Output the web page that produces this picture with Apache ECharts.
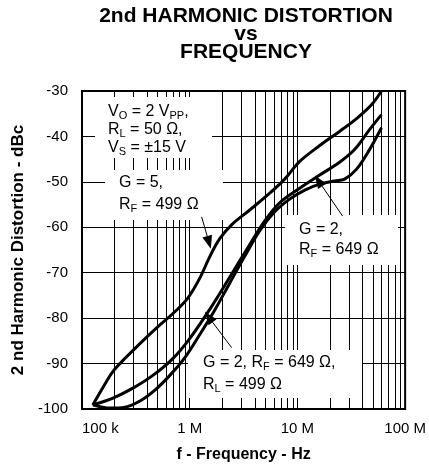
<!DOCTYPE html>
<html><head><meta charset="utf-8">
<script src="https://cdn.jsdelivr.net/npm/echarts@6/dist/echarts.min.js"></script>
<style>html,body{margin:0;padding:0;background:#fff}#c{width:429px;height:468px}</style>
</head><body><div id="c"></div>
<script>
// ---- data ----
const freqTicks = [1e5, 1e6, 1e7, 1e8];
const freqLabels = ['100 k', '1 M', '10 M', '100 M'];
const yMin = -100, yMax = -30, yStep = 10;
const minorFreqs = [2e5,3e5,4e5,5e5,6e5,7e5,8e5,9e5, 2e6,3e6,4e6,5e6,6e6,7e6,8e6,9e6, 2e7,3e7,4e7,5e7,6e7,7e7,8e7,9e7];
const g5 = [[1.26e5,-99.1],[1.57e5,-95.2],[1.94e5,-91.7],[2.5e5,-88.9],[3.45e5,-85.6],[4.96e5,-82.1],[7.28e5,-78.6],[9.6e5,-75.6],[1.24e6,-71.2],[1.54e6,-66.4],[1.9e6,-62.5],[2.46e6,-59.4],[3.61e6,-56.2],[5.53e6,-52.5],[7.61e6,-49.4],[1.05e7,-45.5],[1.61e7,-42.0],[2.46e7,-38.9],[3.61e7,-35.9],[4.87e7,-33.05],[6.03e7,-30.0]];
const g2rl50 = [[1.26e5,-99.1],[1.94e5,-97.6],[2.97e5,-95.4],[4.55e5,-92.6],[6.97e5,-88.9],[1.0e6,-84.5],[1.54e6,-78.0],[2.35e6,-71.0],[3.61e6,-63.8],[4.97e6,-58.6],[6.84e6,-54.6],[1.05e7,-51.4],[1.61e7,-48.5],[2.46e7,-45.7],[3.39e7,-42.9],[4.67e7,-38.5],[6.03e7,-35.2]];
const g2rl499 = [[1.26e5,-99.1],[1.82e5,-99.8],[2.5e5,-99.6],[3.45e5,-98.25],[4.75e5,-95.85],[6.54e5,-92.6],[9.01e5,-88.7],[1.24e6,-83.6],[1.71e6,-78.2],[2.35e6,-72.3],[3.24e6,-66.4],[4.47e6,-60.75],[6.15e6,-56.6],[8.47e6,-53.8],[1.17e7,-51.8],[1.61e7,-50.5],[2.21e7,-49.8],[2.74e7,-49.4],[3.54e7,-47.2],[4.67e7,-42.9],[6.03e7,-38.1]];
// annotation arrows: [fromX, fromY, tipX, tipY]
const arrows = [[1.29e6,-57.7,1.57e6,-64.7],[2.62e7,-57.5,1.45e7,-48.6],[2.45e6,-86.5,1.38e6,-78.6]];

// ---- chart ----
const F = "'Liberation Sans', Arial, Helvetica, sans-serif";
const chart = echarts.init(document.getElementById('c'), null, {renderer:'canvas'});
const rich = {
  n: {fontSize:16, fontFamily:F, fill:'#000', lineHeight:18},
  s: {fontSize:11, fontFamily:F, fill:'#000', lineHeight:11, verticalAlign:'bottom'}
};
function txt(x, y, t) {
  return {type:'text', x, y, zlevel:3, silent:true,
    style:{text:t, rich, fontSize:16, fontFamily:F, fill:'#000', align:'left', verticalAlign:'middle'}};
}
function box(x, y, w, h) {
  return {type:'rect', zlevel:1, silent:true, shape:{x, y, width:w, height:h}, style:{fill:'#fff'}};
}
const curveStyle = {type:'line', smooth:0.35, showSymbol:false, symbol:'none', zlevel:2,
  lineStyle:{color:'#000', width:3}, itemStyle:{color:'#000'}, animation:false};

chart.setOption({
  animation:false,
  grid:{left:82, top:91, width:324, height:321, show:true, borderColor:'#000', borderWidth:2, containLabel:false},
  xAxis:{type:'log', logBase:10, min:freqTicks[0], max:freqTicks[freqTicks.length-1],
    name:'f - Frequency - Hz', nameLocation:'middle', nameGap:38,
    nameTextStyle:{fontFamily:F, fontSize:16, fontWeight:'bold', color:'#000'},
    axisLine:{lineStyle:{color:'#000', width:2}}, axisTick:{show:false},
    axisLabel:{fontFamily:F, fontSize:15, color:'#000', margin:12, alignMinLabel:'left',
      formatter:v => { const i = freqTicks.findIndex(t => Math.abs(Math.log10(t)-Math.log10(v))<1e-6); return i>=0 ? freqLabels[i] : ''; }},
    splitLine:{show:true, lineStyle:{color:'#000', width:1}}, minorTick:{show:false}},
  yAxis:{type:'value', min:yMin, max:yMax, interval:yStep,
    name:'2 nd Harmonic Distortion - dBc', nameLocation:'middle', nameGap:48, nameRotate:90,
    nameTextStyle:{fontFamily:F, fontSize:17, fontWeight:'bold', color:'#000'},
    axisLine:{show:true, lineStyle:{color:'#000', width:2}}, axisTick:{show:false},
    axisLabel:{fontFamily:F, fontSize:15, color:'#000', margin:14},
    splitLine:{show:true, lineStyle:{color:'#000', width:1}}},
  graphic:[
    {type:'text', x:246, y:7, zlevel:3, silent:true, style:{text:'2nd HARMONIC DISTORTION\nvs\nFREQUENCY',
      fontFamily:F, fontSize:21, fontWeight:'bold', lineHeight:18, fill:'#000', align:'center', verticalAlign:'top'}},
    box(95,97,117,61), box(105,170,118,50), box(285,215,113,50), box(188,350,174,48),
    txt(108,112,'{n|V}{s|O}{n| = 2 V}{s|PP}{n|,}'),
    txt(108,130,'{n|R}{s|L}{n| = 50 Ω,}'),
    txt(108,148,'{n|V}{s|S}{n| = ±15 V}'),
    txt(119,183,'{n|G = 5,}'),
    txt(119,205,'{n|R}{s|F}{n| = 499 Ω}'),
    txt(299,230,'{n|G = 2,}'),
    txt(299,250,'{n|R}{s|F}{n| = 649 Ω}'),
    txt(203,363,'{n|G = 2, R}{s|F}{n| = 649 Ω,}'),
    txt(203,385,'{n|R}{s|L}{n| = 499 Ω}')
  ],
  series:[
    {type:'custom', zlevel:0, z:1, silent:true, data:minorFreqs.map(f => [f, yMax]), encode:{x:0, y:1},
      renderItem:(params, api) => {
        const a = api.coord([api.value(0), yMin]), b = api.coord([api.value(0), yMax]);
        const x = Math.round(a[0]) + 0.5;
        return {type:'line', shape:{x1:x, y1:a[1], x2:x, y2:b[1]}, style:{stroke:'#000', lineWidth:1}};
      }},
    Object.assign({name:'G = 5, RF = 499 Ω', data:g5}, curveStyle),
    Object.assign({name:'G = 2, RF = 649 Ω', data:g2rl50}, curveStyle),
    Object.assign({name:'G = 2, RF = 649 Ω, RL = 499 Ω', data:g2rl499}, curveStyle),
    {type:'custom', zlevel:3, silent:true, data:arrows, encode:{x:[0,2], y:[1,3]},
      renderItem:(params, api) => {
        const p1 = api.coord([api.value(0), api.value(1)]), p2 = api.coord([api.value(2), api.value(3)]);
        const dx = p2[0]-p1[0], dy = p2[1]-p1[1], L = Math.hypot(dx, dy);
        const ux = dx/L, uy = dy/L, hl = 13, hw = 5;
        const bx = p2[0]-ux*hl, by = p2[1]-uy*hl;
        return {type:'group', children:[
          {type:'line', shape:{x1:p1[0], y1:p1[1], x2:bx, y2:by}, style:{stroke:'#000', lineWidth:1}},
          {type:'polygon', shape:{points:[[p2[0],p2[1]],[bx-uy*hw, by+ux*hw],[bx+uy*hw, by-ux*hw]]}, style:{fill:'#000'}}
        ]};
      }}
  ]
});
</script>
</body></html>
